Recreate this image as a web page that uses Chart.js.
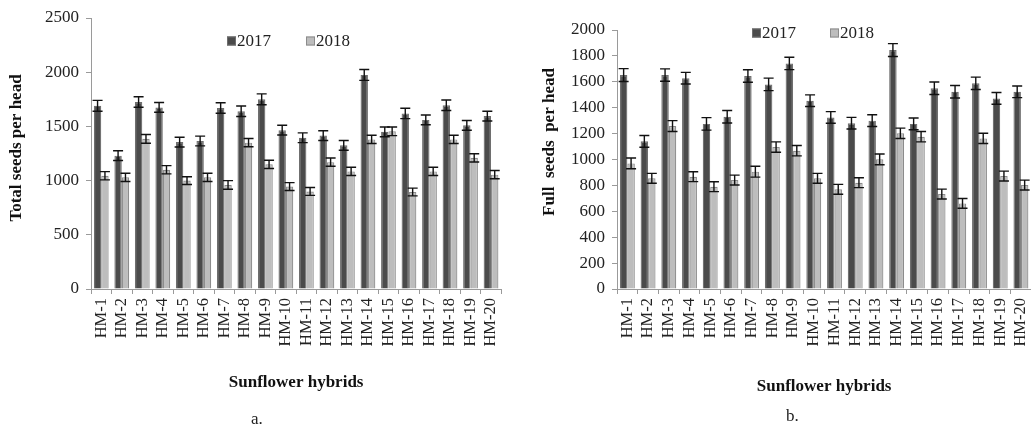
<!DOCTYPE html>
<html>
<head>
<meta charset="utf-8">
<script src="https://cdn.jsdelivr.net/npm/chart.js@4"></script>
<style>
  html, body { margin: 0; padding: 0; background: #fff; overflow: hidden; }
  body { width: 1031px; height: 425px; position: relative; }
  .box { position: absolute; top: 0; height: 425px; }
  #boxA { left: 0; width: 515px; }
  #boxB { left: 515px; width: 530px; }
  .panel { position: absolute; font: 17px "Liberation Serif", serif; color: #222; line-height: 20px; }
</style>
</head>
<body>
<div class="box" id="boxA"><canvas id="grafica1"></canvas></div>
<div class="box" id="boxB"><canvas id="grafica2"></canvas></div>
<div class="panel" style="left:251px; top:409px;">a.</div>
<div class="panel" style="left:786px; top:406px;">b.</div>

<script>
const hybrids = ['HM-1', 'HM-2', 'HM-3', 'HM-4', 'HM-5', 'HM-6', 'HM-7', 'HM-8', 'HM-9', 'HM-10',
                 'HM-11', 'HM-12', 'HM-13', 'HM-14', 'HM-15', 'HM-16', 'HM-17', 'HM-18', 'HM-19', 'HM-20'];
const years = ['2017', '2018'];

// total seeds per head (a)
const total2017 = [1690, 1230, 1725, 1675, 1355, 1365, 1670, 1640, 1750, 1465, 1395, 1415, 1325, 1975, 1450, 1620, 1560, 1695, 1510, 1595];
const total2018 = [1045, 1030, 1385, 1100, 1000, 1030, 960, 1350, 1150, 945, 900, 1170, 1085, 1380, 1455, 895, 1085, 1380, 1210, 1055];
const totalErr2017 = [50, 45, 48, 45, 45, 45, 48, 48, 50, 45, 45, 45, 45, 50, 45, 48, 45, 48, 45, 45];
const totalErr2018 = [38, 38, 40, 38, 36, 38, 40, 38, 38, 36, 36, 38, 38, 38, 40, 36, 38, 38, 38, 38];
const totalTicks = { max: 2500, step: 500 };

// full seeds per head (b)
const full2017 = [1652, 1140, 1652, 1628, 1275, 1330, 1645, 1580, 1742, 1454, 1325, 1280, 1300, 1845, 1275, 1550, 1523, 1588, 1472, 1523];
const full2018 = [970, 855, 1258, 867, 790, 841, 906, 1096, 1068, 855, 770, 821, 1001, 1202, 1176, 733, 661, 1163, 872, 803];
const fullErr2017 = [50, 45, 48, 45, 48, 48, 48, 48, 48, 45, 45, 45, 45, 50, 45, 48, 48, 48, 45, 45];
const fullErr2018 = [42, 38, 42, 38, 38, 38, 42, 40, 40, 38, 38, 38, 42, 40, 40, 38, 38, 40, 38, 38];
const fullTicks = { max: 2000, step: 200 };

const serif = '"Liberation Serif", "Times New Roman", serif';
const textColor = '#222';
const axisColor = '#9a9a9a';

// vertical error bars with caps, drawn from each dataset's `errors` array
const errorBars = {
    id: 'errorBars',
    afterDatasetsDraw(chart) {
        const ctx = chart.ctx;
        const yScale = chart.scales.y;
        ctx.save();
        ctx.strokeStyle = '#111';
        ctx.lineWidth = 1.4;
        chart.data.datasets.forEach((ds, i) => {
            chart.getDatasetMeta(i).data.forEach((bar, j) => {
                const v = ds.data[j];
                const e = ds.errors[j];
                const top = yScale.getPixelForValue(v + e);
                const bot = yScale.getPixelForValue(v - e);
                const x = bar.x;
                ctx.beginPath();
                ctx.moveTo(x, top); ctx.lineTo(x, bot);
                ctx.moveTo(x - 5, top); ctx.lineTo(x + 5, top);
                ctx.moveTo(x - 5, bot); ctx.lineTo(x + 5, bot);
                ctx.stroke();
            });
        });
        ctx.restore();
    }
};

// legend inside the plot and the axis titles
const panelText = {
    id: 'panelText',
    afterDraw(chart, args, opts) {
        const ctx = chart.ctx;
        const area = chart.chartArea;
        ctx.save();

        // legend
        ctx.font = '17px ' + serif;
        ctx.textBaseline = 'middle';
        ctx.textAlign = 'left';
        chart.data.datasets.forEach((ds, i) => {
            const bx = opts.legendX + i * opts.legendGap;
            const by = opts.legendY;
            ctx.fillStyle = ds.backgroundColor;
            ctx.fillRect(bx, by - 4.5, 9, 9);
            ctx.strokeStyle = ds.borderColor;
            ctx.lineWidth = 1;
            ctx.strokeRect(bx + 0.5, by - 4, 8, 8);
            ctx.fillStyle = textColor;
            ctx.fillText(ds.label, bx + 10, by + 1);
        });

        // axis titles
        ctx.font = 'bold 17px ' + serif;
        ctx.fillStyle = '#111';
        ctx.textAlign = 'center';
        ctx.fillText(opts.xTitle, (area.left + area.right) / 2, opts.xTitleY);

        ctx.translate(opts.yTitleX, opts.yTitleY);
        ctx.rotate(-Math.PI / 2);
        ctx.fillText(opts.yTitle, 0, 0);
        ctx.restore();
    }
};

function makeConfig(data2017, data2018, err2017, err2018, ticks, padTop, padRight, axisWidth, text) {
    return {
        type: 'bar',
        data: {
            labels: hybrids,
            datasets: [{
                label: years[0],
                data: data2017,
                errors: err2017,
                backgroundColor: '#4b4b4b',
                borderColor: '#6e6e6e',
                borderWidth: 1.2
            }, {
                label: years[1],
                data: data2018,
                errors: err2018,
                backgroundColor: '#bdbdbd',
                borderColor: '#8c8c8c',
                borderWidth: 1.2
            }]
        },
        options: {
            responsive: true,
            maintainAspectRatio: false,
            animation: false,
            datasets: { bar: { categoryPercentage: 0.72, barPercentage: 1 } },
            layout: { padding: { top: padTop, right: padRight, bottom: 0, left: 0 } },
            plugins: {
                legend: { display: false },
                tooltip: { enabled: false },
                panelText: text
            },
            scales: {
                x: {
                    ticks: {
                        minRotation: 90, maxRotation: 90, autoSkip: false, padding: 4,
                        font: { family: serif, size: 16.5 }, color: textColor
                    },
                    grid: { drawOnChartArea: false, tickLength: 5, color: axisColor },
                    border: { color: axisColor },
                    afterFit(scale) { scale.height = 425 - 289; }
                },
                y: {
                    min: 0,
                    max: ticks.max,
                    ticks: {
                        stepSize: ticks.step, padding: 7,
                        font: { family: serif, size: 17 }, color: textColor,
                        callback: (value) => String(value)
                    },
                    grid: { drawOnChartArea: false, tickLength: 5, color: axisColor },
                    border: { color: axisColor },
                    afterFit(scale) { scale.width = axisWidth; }
                }
            }
        },
        plugins: [errorBars, panelText]
    };
}

const config1 = makeConfig(total2017, total2018, totalErr2017, totalErr2018, totalTicks, 18, 7, 91, {
    legendX: 227, legendY: 41, legendGap: 79,
    xTitle: 'Sunflower hybrids', xTitleY: 383,
    yTitle: 'Total seeds per head', yTitleX: 17, yTitleY: 148
});
new Chart(document.querySelector('#grafica1'), config1);

const config2 = makeConfig(full2017, full2018, fullErr2017, fullErr2018, fullTicks, 30, 11, 102, {
    legendX: 237, legendY: 33, legendGap: 78,
    xTitle: 'Sunflower hybrids', xTitleY: 387,
    yTitle: 'Full  seeds  per head', yTitleX: 35, yTitleY: 142
});
new Chart(document.querySelector('#grafica2'), config2);
</script>
</body>
</html>
